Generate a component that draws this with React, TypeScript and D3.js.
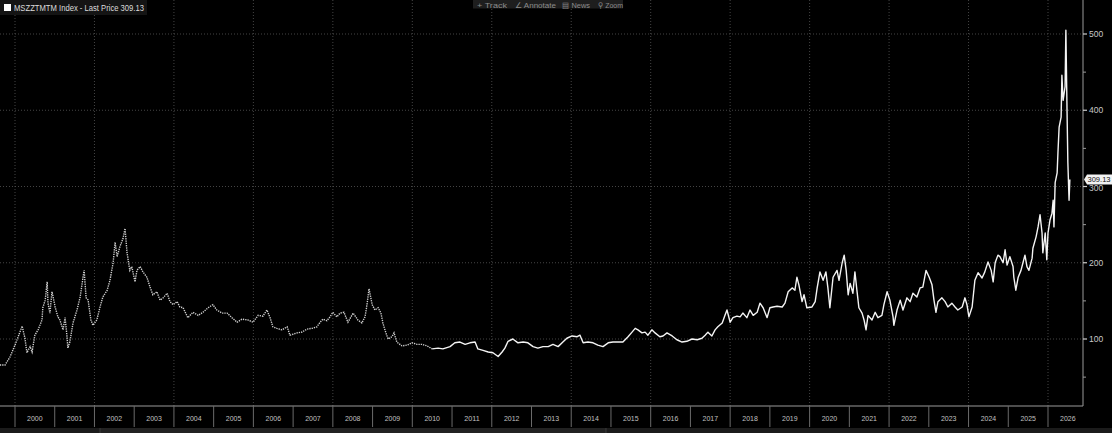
import React from "react";
import * as d3 from "d3";

const priceSeries: [number, number][] = [
  [1999.62, 66], [1999.75, 66], [1999.87, 76], [2000.0, 92], [2000.08, 103], [2000.18, 117],
  [2000.25, 101], [2000.3, 82], [2000.38, 90], [2000.43, 83], [2000.5, 105], [2000.58, 112],
  [2000.68, 125], [2000.7, 141], [2000.76, 151], [2000.81, 175], [2000.83, 147], [2000.88, 134],
  [2000.93, 162], [2000.96, 155], [2001.01, 142], [2001.08, 129], [2001.13, 125], [2001.21, 112],
  [2001.26, 128], [2001.31, 103], [2001.33, 88], [2001.38, 96], [2001.46, 121], [2001.56, 138],
  [2001.64, 155], [2001.71, 180], [2001.74, 190], [2001.79, 154], [2001.84, 151], [2001.91, 125],
  [2001.96, 118], [2002.06, 125], [2002.14, 142], [2002.21, 155], [2002.32, 164], [2002.39, 177],
  [2002.47, 200], [2002.52, 227], [2002.57, 208], [2002.64, 221], [2002.72, 232], [2002.77, 245],
  [2002.82, 213], [2002.89, 190], [2002.94, 195], [2003.02, 175], [2003.07, 190], [2003.15, 195],
  [2003.22, 188], [2003.32, 181], [2003.4, 168], [2003.47, 158], [2003.57, 162], [2003.65, 151],
  [2003.73, 154], [2003.83, 160], [2003.9, 149], [2003.98, 145], [2004.08, 149], [2004.15, 142],
  [2004.23, 141], [2004.35, 128], [2004.48, 135], [2004.61, 131], [2004.73, 135], [2004.86, 141],
  [2004.98, 145], [2005.08, 138], [2005.21, 134], [2005.34, 134], [2005.46, 128], [2005.59, 122],
  [2005.71, 126], [2005.86, 125], [2005.99, 122], [2006.12, 131], [2006.24, 130], [2006.34, 138],
  [2006.42, 128], [2006.49, 116], [2006.59, 114], [2006.72, 112], [2006.85, 116], [2006.92, 105],
  [2007.1, 108], [2007.22, 109], [2007.35, 113], [2007.48, 114], [2007.6, 116], [2007.68, 122],
  [2007.75, 126], [2007.85, 124], [2007.93, 129], [2008.0, 135], [2008.1, 129], [2008.18, 134],
  [2008.28, 135], [2008.38, 122], [2008.51, 134], [2008.63, 125], [2008.73, 121], [2008.81, 129],
  [2008.86, 145], [2008.91, 166], [2008.99, 145], [2009.06, 138], [2009.14, 141], [2009.21, 134],
  [2009.26, 121], [2009.31, 112], [2009.39, 100], [2009.49, 103], [2009.54, 108], [2009.61, 96],
  [2009.74, 91], [2009.87, 92], [2009.99, 95], [2010.12, 93], [2010.24, 93], [2010.37, 91],
  [2010.5, 87], [2010.65, 88], [2010.77, 87], [2010.95, 90], [2011.07, 95], [2011.2, 96],
  [2011.33, 93], [2011.45, 95], [2011.58, 96], [2011.65, 87], [2011.78, 85], [2011.91, 83],
  [2012.03, 82], [2012.16, 77], [2012.26, 83], [2012.33, 88], [2012.41, 97], [2012.53, 100],
  [2012.66, 95], [2012.79, 96], [2012.91, 95], [2013.04, 90], [2013.16, 88], [2013.29, 90],
  [2013.42, 90], [2013.54, 93], [2013.67, 90], [2013.79, 96], [2013.89, 101], [2014.02, 104],
  [2014.15, 103], [2014.22, 105], [2014.3, 95], [2014.42, 96], [2014.55, 95], [2014.67, 92],
  [2014.8, 90], [2014.93, 95], [2015.05, 96], [2015.18, 96], [2015.3, 96], [2015.43, 103],
  [2015.53, 109], [2015.61, 114], [2015.68, 112], [2015.78, 108], [2015.86, 109], [2015.93, 105],
  [2016.03, 112], [2016.11, 108], [2016.23, 103], [2016.31, 104], [2016.41, 108], [2016.54, 104],
  [2016.66, 99], [2016.79, 96], [2016.91, 97], [2017.04, 100], [2017.17, 99], [2017.29, 101],
  [2017.37, 105], [2017.44, 109], [2017.54, 104], [2017.62, 112], [2017.69, 116], [2017.8, 121],
  [2017.87, 131], [2017.92, 138], [2018.0, 122], [2018.07, 128], [2018.17, 130], [2018.25, 129],
  [2018.32, 134], [2018.42, 128], [2018.5, 138], [2018.58, 131], [2018.68, 135], [2018.75, 147],
  [2018.83, 141], [2018.93, 128], [2019.0, 141], [2019.08, 142], [2019.18, 143], [2019.31, 142],
  [2019.38, 147], [2019.46, 162], [2019.56, 167], [2019.63, 164], [2019.68, 181], [2019.73, 171],
  [2019.81, 149], [2019.86, 158], [2019.93, 141], [2020.06, 142], [2020.14, 149], [2020.19, 167],
  [2020.26, 188], [2020.34, 177], [2020.41, 188], [2020.46, 167], [2020.51, 141], [2020.59, 181],
  [2020.69, 190], [2020.74, 177], [2020.82, 200], [2020.87, 210], [2020.92, 190], [2020.97, 158],
  [2021.02, 173], [2021.09, 160], [2021.14, 188], [2021.19, 164], [2021.24, 141], [2021.32, 134],
  [2021.37, 125], [2021.42, 112], [2021.47, 131], [2021.57, 125], [2021.65, 135], [2021.72, 128],
  [2021.82, 131], [2021.87, 145], [2021.95, 162], [2022.02, 151], [2022.1, 129], [2022.12, 118],
  [2022.2, 138], [2022.28, 151], [2022.35, 138], [2022.45, 154], [2022.53, 149], [2022.6, 160],
  [2022.7, 155], [2022.78, 167], [2022.85, 168], [2022.93, 190], [2023.01, 181], [2023.08, 171],
  [2023.13, 151], [2023.18, 135], [2023.23, 149], [2023.33, 154], [2023.41, 149], [2023.48, 142],
  [2023.58, 147], [2023.66, 142], [2023.73, 138], [2023.84, 142], [2023.91, 154], [2023.96, 145],
  [2024.01, 129], [2024.09, 142], [2024.16, 177], [2024.24, 187], [2024.34, 180], [2024.41, 188],
  [2024.49, 201], [2024.57, 190], [2024.62, 175], [2024.67, 200], [2024.74, 210], [2024.79, 208],
  [2024.87, 200], [2024.92, 217], [2024.97, 197], [2025.04, 208], [2025.12, 195], [2025.14, 181],
  [2025.19, 164], [2025.25, 181], [2025.32, 190], [2025.37, 200], [2025.42, 210], [2025.47, 195],
  [2025.52, 190], [2025.6, 206], [2025.62, 219], [2025.7, 234], [2025.75, 247], [2025.8, 263],
  [2025.85, 239], [2025.87, 213], [2025.93, 239], [2025.97, 204], [2026.0, 239], [2026.05, 256],
  [2026.1, 265], [2026.13, 282], [2026.15, 247], [2026.18, 305], [2026.23, 318], [2026.25, 344],
  [2026.28, 378], [2026.33, 391], [2026.35, 446], [2026.38, 413], [2026.43, 431], [2026.45, 505],
  [2026.48, 396], [2026.5, 331], [2026.53, 282], [2026.55, 309.13],
];

const lastPrice = 309.13;
const seriesTitle = "MSZZTMTM Index - Last Price 309.13";
const yMajorTicks = [100, 200, 300, 400, 500];
const yMinorTicks = [50, 150, 250, 350, 450];
const yearLabels = d3.range(2000, 2027);
const gridYears = d3.range(2000, 2027, 2);
const toolbarItems = ["+ Track", "∠ Annotate", "▤ News", "⚲ Zoom"];
const denseStartYear = 2010.4; // older history drawn with a dotted rendering

const W = 1112;
const H = 433;
const plotRight = 1083;
const plotBottom = 406;
const axisBottom = 427;

const FONT = "'Liberation Sans', Arial, sans-serif";

export default function App() {
  const x = d3.scaleLinear().domain([2000, 2026]).range([15, 1048]);
  const y = d3.scaleLinear().domain([100, 500]).range([339, 34]);

  const line = d3
    .line<[number, number]>()
    .x((d) => x(d[0]))
    .y((d) => y(d[1]));

  const splitIdx = priceSeries.findIndex((d) => d[0] >= denseStartYear);
  const oldPart = priceSeries.slice(0, splitIdx + 1);
  const newPart = priceSeries.slice(splitIdx);

  const toolbarX = [477, 515, 562, 598];
  const toolbarW = [30, 41, 28, 25];
  const ly = y(lastPrice);

  return (
    <div style={{ width: W, height: H, background: "#000" }}>
      <style>{`body{margin:0;background:#000;}`}</style>
      <svg width={W} height={H} style={{ display: "block", background: "#000" }}>
        <rect x={0} y={0} width={W} height={H} fill="#000" />

        {/* horizontal grid */}
        {yMajorTicks.map((v) => (
          <line
            key={"hg" + v}
            x1={0}
            x2={plotRight}
            y1={y(v)}
            y2={y(v)}
            stroke="#555"
            strokeWidth={0.8}
            strokeDasharray="1 2"
          />
        ))}
        {/* vertical grid */}
        {gridYears.map((yr) => (
          <line
            key={"vg" + yr}
            x1={x(yr)}
            x2={x(yr)}
            y1={0}
            y2={plotBottom}
            stroke="#555"
            strokeWidth={0.8}
            strokeDasharray="1 2"
          />
        ))}

        {/* price line */}
        <path
          d={line(oldPart) || ""}
          fill="none"
          stroke="#cfcfcf"
          strokeWidth={1.4}
          strokeDasharray="1.3 1"
        />
        <path d={line(newPart) || ""} fill="none" stroke="#f4f4f4" strokeWidth={1.4} strokeLinejoin="round" />

        {/* axes */}
        <line x1={plotRight} x2={plotRight} y1={0} y2={plotBottom} stroke="#9a9a9a" strokeWidth={1} />
        <line x1={0} x2={plotRight} y1={plotBottom} y2={plotBottom} stroke="#9a9a9a" strokeWidth={1} />

        {yMinorTicks.map((v) => (
          <line key={"mt" + v} x1={plotRight} x2={plotRight + 3} y1={y(v)} y2={y(v)} stroke="#9a9a9a" />
        ))}
        {yMajorTicks.map((v) => (
          <g key={"yt" + v}>
            <line x1={plotRight} x2={plotRight + 4} y1={y(v)} y2={y(v)} stroke="#cfcfcf" strokeWidth={1.2} />
            <text
              x={plotRight + 6}
              y={y(v) + (v === 300 ? 2 : 0)}
              dy="0.35em"
              fill="#c8c8c8"
              fontSize={8.5}
              fontFamily={FONT}
            >
              {v}
            </text>
          </g>
        ))}

        {/* last price tag */}
        <g>
          <path
            d={`M${plotRight + 1},${ly} L${plotRight + 4},${ly - 5} L${W},${ly - 5} L${W},${ly + 5} L${
              plotRight + 4
            },${ly + 5} Z`}
            fill="#f2f2f2"
          />
          <text
            x={plotRight + 4.5}
            y={ly}
            dy="0.35em"
            fill="#111"
            fontSize={8}
            fontFamily={FONT}
            textLength={23}
            lengthAdjust="spacingAndGlyphs"
          >
            {lastPrice.toFixed(2)}
          </text>
        </g>

        {/* x axis year separators and labels */}
        {yearLabels.map((yr) => (
          <g key={"xa" + yr}>
            <line x1={x(yr)} x2={x(yr)} y1={plotBottom} y2={axisBottom} stroke="#6a6a6a" strokeWidth={1} />
            <text
              x={x(yr + 0.5)}
              y={421}
              textAnchor="middle"
              fill="#c0c0c0"
              fontSize={8}
              fontFamily={FONT}
              textLength={15.5}
              lengthAdjust="spacingAndGlyphs"
            >
              {yr}
            </text>
          </g>
        ))}

        {/* bottom scroll strip */}
        <rect x={0} y={428} width={W} height={5} fill="#1b1b1b" />
        <rect x={100} y={428} width={506} height={5} fill="#222" />
        <line x1={100} x2={100} y1={428} y2={433} stroke="#3a3a3a" />
        <line x1={606} x2={606} y1={428} y2={433} stroke="#3a3a3a" />

        {/* legend */}
        <rect x={0} y={0} width={147} height={15} fill="#141414" />
        <rect x={4} y={4} width={7} height={7} fill="#fff" />
        <text
          x={14}
          y={11}
          fill="#dcdcdc"
          fontSize={8.5}
          fontFamily={FONT}
          textLength={130}
          lengthAdjust="spacingAndGlyphs"
        >
          {seriesTitle}
        </text>

        {/* toolbar */}
        <rect x={473} y={0} width={150} height={8.5} fill="#1e1e1e" />
        {toolbarItems.map((t, i) => (
          <text
            key={t}
            x={toolbarX[i]}
            y={7.5}
            fill="#8c8c8c"
            fontSize={8}
            fontFamily={FONT}
            textLength={toolbarW[i]}
            lengthAdjust="spacingAndGlyphs"
          >
            {t}
          </text>
        ))}
      </svg>
    </div>
  );
}
